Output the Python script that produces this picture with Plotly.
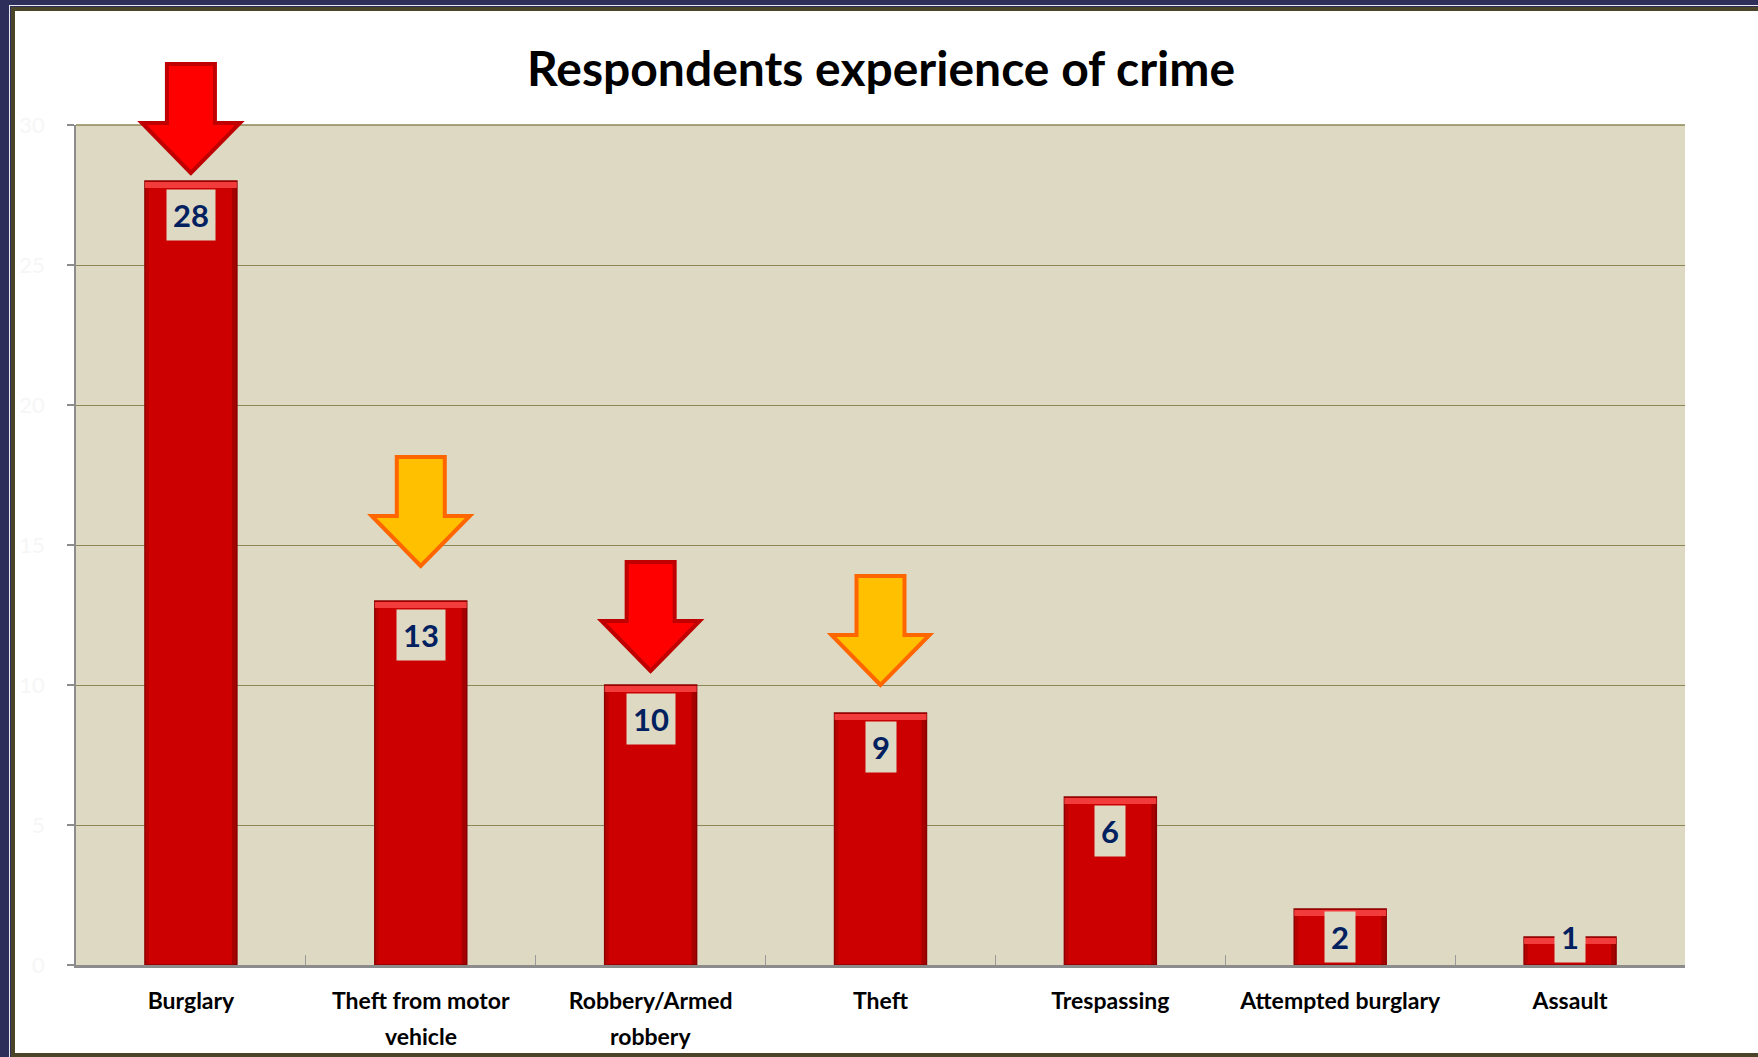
import plotly.graph_objects as go

# ---- data ----
categories = ["Burglary", "Theft from motor<br>vehicle", "Robbery/Armed<br>robbery",
              "Theft", "Trespassing", "Attempted burglary", "Assault"]
values = [28, 13, 10, 9, 6, 2, 1]
y_ticks = [0, 5, 10, 15, 20, 25, 30]
# arrows: category index and style
arrow_idx = [0, 1, 2, 3]
arrow_style = ["red", "orange", "red", "orange"]

W, H = 1758, 1057
ML, MR, MT, MB = 76, 73, 125, 92
PW = W - ML - MR
PH = H - MT - MB
YMAX = 30.0
NCAT = len(categories)
px_x = 1.0 / PW        # paper units per pixel
px_y = 1.0 / PH

FONT = "Lato"
PLOT_BG = "#DDD9C3"
x = list(range(NCAT))

fig = go.Figure()

fig.add_trace(go.Bar(
    x=x, y=values, width=0.4,
    marker=dict(color="#CC0000", line=dict(color="#8E0000", width=1.5)),
    hoverinfo="skip", showlegend=False,
))

shapes = []
# white panel with olive frame
shapes.append(dict(type="rect", xref="paper", yref="paper", layer="below",
                   x0=(13 - ML) * px_x, x1=(1775 - ML) * px_x,
                   y0=(H - MB - 1055) * px_y, y1=(H - MB - 9) * px_y,
                   fillcolor="white", line=dict(color="#4A4428", width=4)))
# plot area background (above the white panel)
shapes.append(dict(type="rect", xref="paper", yref="paper", layer="below",
                   x0=0, x1=1, y0=0, y1=1, fillcolor=PLOT_BG, line=dict(width=0)))
# thin white line above the frame
shapes.append(dict(type="line", xref="paper", yref="paper", layer="below",
                   x0=(9 - ML) * px_x, x1=(1775 - ML) * px_x,
                   y0=(H - MB - 5.5) * px_y, y1=(H - MB - 5.5) * px_y,
                   line=dict(color="#E8E8F0", width=1)))
shapes.append(dict(type="line", xref="paper", yref="paper", layer="below",
                   x0=(9.5 - ML) * px_x, x1=(9.5 - ML) * px_x,
                   y0=(H - MB - 1060) * px_y, y1=(H - MB - 5.5) * px_y,
                   line=dict(color="#E8E8F0", width=1)))
# top gridline (range end)
shapes.append(dict(type="line", xref="paper", yref="paper", x0=0, x1=1, y0=1, y1=1,
                   line=dict(color="#8C8654", width=1.5), layer="above"))

# bar side shading + top highlight (bevel look)
for i, v in zip(x, values):
    shapes.append(dict(type="rect", xref="x", yref="y", layer="above",
                       x0=i - 0.2, x1=i + 0.2, y0=v - 7 * px_y * YMAX, y1=v - 1 * px_y * YMAX,
                       fillcolor="rgba(255,80,80,0.75)", line=dict(width=0)))
    shapes.append(dict(type="rect", xref="x", yref="y", layer="above",
                       x0=i + 0.2 - 5 * px_x * NCAT, x1=i + 0.2, y0=0, y1=v - 7 * px_y * YMAX,
                       fillcolor="rgba(120,0,0,0.45)", line=dict(width=0)))
    shapes.append(dict(type="rect", xref="x", yref="y", layer="above",
                       x0=i - 0.2, x1=i - 0.2 + 4 * px_x * NCAT, y0=0, y1=v - 7 * px_y * YMAX,
                       fillcolor="rgba(150,0,0,0.35)", line=dict(width=0)))

# arrows (paper coordinates so they are not clipped)
gaps_px = {0: 8, 1: 35, 2: 14, 3: 28}
styles = {"red": ("#FF0000", "#C00000"), "orange": ("#FFC000", "#FF6600")}
for i, st in zip(arrow_idx, arrow_style):
    c = (i + 0.5) / NCAT
    tip = values[i] / YMAX + gaps_px[i] * px_y
    hb = tip + 50 * px_y
    top = tip + 109 * px_y
    hw = 49 * px_x
    sw = 24 * px_x
    path = (f"M {c},{tip} L {c - hw},{hb} L {c - sw},{hb} L {c - sw},{top} "
            f"L {c + sw},{top} L {c + sw},{hb} L {c + hw},{hb} Z")
    fill, line = styles[st]
    shapes.append(dict(type="path", xref="paper", yref="paper", path=path, layer="above",
                       fillcolor=fill, line=dict(color=line, width=4)))

fig.update_layout(shapes=shapes)

# value labels
for i, v in zip(x, values):
    ytop = max(v - 8 * px_y * YMAX, 54 * px_y * YMAX)
    fig.add_annotation(x=i, y=ytop, xref="x", yref="y", text=f"<b>{v}</b>",
                       showarrow=False, yanchor="top", xanchor="center",
                       font=dict(family=FONT, size=31, color="#002060"),
                       bgcolor=PLOT_BG, borderpad=6)

# category labels: first line as tick label, second line as annotation (wider line spacing)
first_lines = [c.split("<br>")[0] for c in categories]
for i, c in zip(x, categories):
    parts = c.split("<br>")
    if len(parts) > 1:
        fig.add_annotation(x=i, y=0, xref="x", yref="paper", text=parts[1],
                           showarrow=False, yanchor="middle", xanchor="center",
                           yshift=-71, font=dict(family=FONT, size=23, color="black",
                                                 weight="bold"))

fig.add_annotation(x=0.5, y=(H - MB - 68) * px_y, xref="paper", yref="paper",
                   text="<b>Respondents experience of crime</b>", showarrow=False,
                   font=dict(family=FONT, size=48, color="black"),
                   xanchor="center", yanchor="middle")

fig.update_layout(
    width=W, height=H,
    margin=dict(l=ML, r=MR, t=MT, b=MB, pad=0),
    paper_bgcolor="#2D2F5A",
    plot_bgcolor=PLOT_BG,
    xaxis=dict(range=[-0.5, NCAT - 0.5], tickmode="array", tickvals=x, ticktext=first_lines,
               ticks="", showgrid=False, zeroline=False,
               showline=True, linecolor="#8C8C8C", linewidth=3,
               tickfont=dict(family=FONT, size=23, color="black", weight="bold"),
               ticklabelstandoff=13),
    xaxis2=dict(range=[-0.5, NCAT - 0.5], overlaying="x", side="bottom",
                tickmode="array", tickvals=[i - 0.5 for i in range(NCAT + 1)],
                ticks="inside", ticklen=10, tickcolor="#9A9A9A", tickwidth=1,
                showticklabels=False, showgrid=False, zeroline=False, showline=False),
    yaxis=dict(range=[0, YMAX], tickmode="array", tickvals=y_ticks,
               showgrid=True, gridcolor="#8C8654", gridwidth=1.2, zeroline=False,
               showline=True, linecolor="#8C8C8C", linewidth=1.5,
               ticks="outside", ticklen=7, tickwidth=2, tickcolor="#8C8C8C",
               tickfont=dict(family=FONT, size=22, color="#F6F6F6"),
               ticklabelstandoff=18),
)
fig.add_trace(go.Scatter(x=[None], y=[None], xaxis="x2", yaxis="y", showlegend=False,
                         hoverinfo="skip"))

fig.write_html("out.html", config={"displayModeBar": False},
               post_script="document.body.style.margin='0';document.body.style.overflow='hidden';")
